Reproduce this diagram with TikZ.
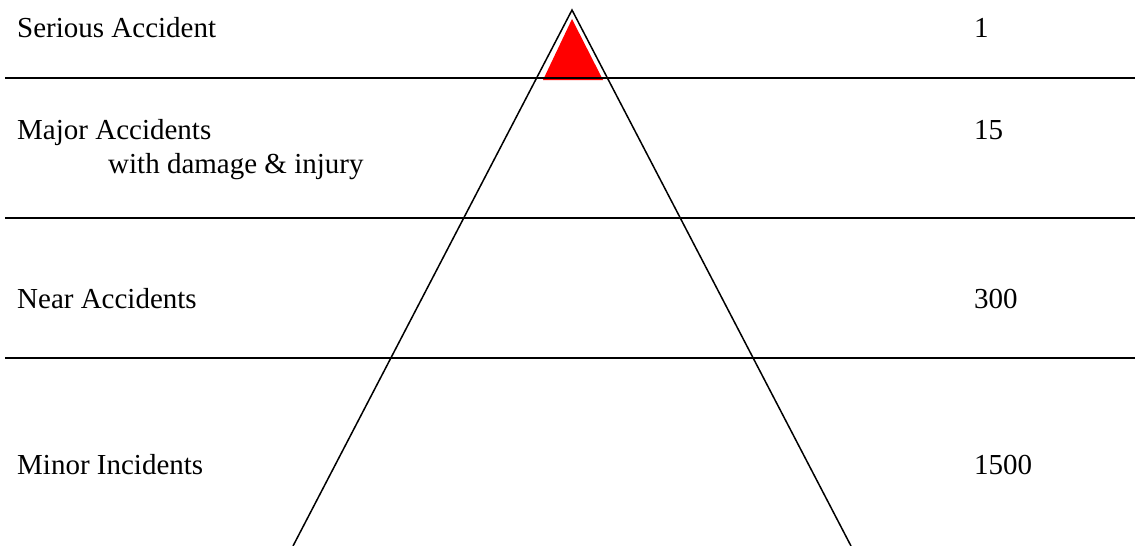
\documentclass[tikz,border=0pt]{standalone}
\usepackage{fontspec}
\setmainfont{Liberation Serif}
\begin{document}
\begin{tikzpicture}[x=1pt,y=-1pt,
  lbl/.style={anchor=base west,inner sep=0pt,font=\fontsize{29}{32}\selectfont},
  rule/.style={line width=1.5pt,black},
  side/.style={line width=1.5pt,black}]
\useasboundingbox (0,0) rectangle (1135,546);
% red top
\coordinate (ra) at (572,19);
\coordinate (rl) at (543,80);
\coordinate (rr) at (603,80);
\fill[red] (ra) -- (rl) -- (rr) -- cycle;
% horizontal rules
\coordinate (h1l) at (5,78);   \coordinate (h1r) at (1135,78);
\coordinate (h2l) at (5,218);  \coordinate (h2r) at (1135,218);
\coordinate (h3l) at (5,358);  \coordinate (h3r) at (1135,358);
\draw[rule] (h1l) -- (h1r);
\draw[rule] (h2l) -- (h2r);
\draw[rule] (h3l) -- (h3r);
% pyramid sides
\coordinate (apex) at (572,10);
\coordinate (bl) at (293,546);
\coordinate (br) at (851,546);
\draw[side] (bl) -- (apex) -- (br);
% labels
\node[lbl] (t1) at (17,37) {Serious Accident};
\node[lbl] (t2) at (17,139) {Major Accidents};
\node[lbl] (t2b) at (108,173) {with damage \& injury};
\node[lbl] (t3) at (17,308) {Near Accidents};
\node[lbl] (t4) at (17,474) {Minor Incidents};
\node[lbl] (n1) at (974,37) {1};
\node[lbl] (n2) at (974,139) {15};
\node[lbl] (n3) at (974,308) {300};
\node[lbl] (n4) at (974,474) {1500};
\end{tikzpicture}
\end{document}
